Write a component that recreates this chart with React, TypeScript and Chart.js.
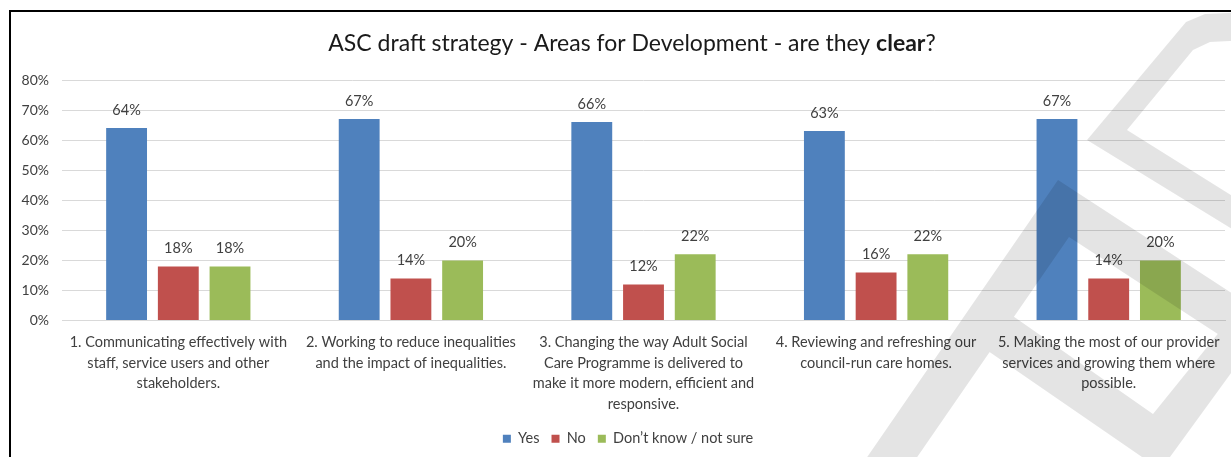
import React, { useEffect, useRef } from "react";
import { Chart, registerables } from "chart.js";

Chart.register(...registerables);

// ---------- data ----------
const categoryLabels: string[][] = [
  ["1. Communicating effectively with", "staff, service users and other", "stakeholders."],
  ["2. Working to reduce inequalities", "and the impact of inequalities."],
  ["3. Changing the way Adult Social", "Care Programme is delivered to", "make it more modern, efficient and", "responsive."],
  ["4. Reviewing and refreshing our", "council-run care homes."],
  ["5. Making the most of our provider", "services and growing them where", "possible."],
];
const seriesNames = ["Yes", "No", "Don’t know / not sure"];
const yesValues = [64, 67, 66, 63, 67];
const noValues = [18, 14, 12, 16, 14];
const dontKnowValues = [18, 20, 22, 22, 20];
const yMin = 0;
const yMax = 80;
const yStep = 10;
const titleParts = [
  { text: "ASC draft strategy - Areas for Development - are they ", bold: false },
  { text: "clear", bold: true },
  { text: "?", bold: false },
];

// ---------- styles ----------
const seriesColors = ["#4F81BD", "#C0504D", "#9BBB59"];
const FONT = "Lato, 'Open Sans', sans-serif";
const TEXT = "#404040";
const GRID = "#D9D9D9";

// decorative watermark (background logo, not data)
const watermarkShapes: number[][][] = [
  [[1250, 12], [1205, 14], [1186, 22], [1087, 140], [1250, 240], [1250, 207], [1127, 130], [1193, 50], [1210, 42], [1250, 40]],
  [[850, 482], [1058, 180], [1250, 305], [1250, 355], [1069, 237], [900, 482]],
  [[990, 300], [1153, 414], [1250, 294], [1250, 347], [1170, 457], [1142, 457], [975, 342]],
];

const titlePlugin = {
  id: "mixedTitle",
  afterDraw(chart: any) {
    const ctx = chart.ctx;
    ctx.save();
    const size = 23;
    const fonts = titleParts.map((p) => `${p.bold ? "bold " : ""}${size}px ${FONT}`);
    let total = 0;
    const widths = titleParts.map((p, i) => {
      ctx.font = fonts[i];
      const w = ctx.measureText(p.text).width;
      total += w;
      return w;
    });
    let x = chart.width / 2 - total / 2;
    ctx.fillStyle = "#1a1a1a";
    ctx.textBaseline = "alphabetic";
    ctx.textAlign = "left";
    titleParts.forEach((p, i) => {
      ctx.font = fonts[i];
      ctx.fillText(p.text, x, 51);
      x += widths[i];
    });
    ctx.restore();
  },
};

const dataLabelPlugin = {
  id: "barValueLabels",
  afterDatasetsDraw(chart: any) {
    const ctx = chart.ctx;
    ctx.save();
    ctx.font = `14.5px ${FONT}`;
    ctx.fillStyle = TEXT;
    ctx.textAlign = "center";
    ctx.textBaseline = "alphabetic";
    chart.data.datasets.forEach((ds: any, di: number) => {
      const meta = chart.getDatasetMeta(di);
      meta.data.forEach((el: any, i: number) => {
        ctx.fillText(`${Math.round(ds.data[i])}%`, el.x, el.y - 13);
      });
    });
    ctx.restore();
  },
};

// centre the legend under the full (wider, cropped) chart like the reference
const legendShiftPlugin = {
  id: "legendShift",
  afterLayout(chart: any) {
    const l = chart.legend;
    if (l) {
      l.left += 5;
      l.right += 5;
    }
  },
};

const watermarkPlugin = {
  id: "watermark",
  afterDraw(chart: any) {
    const ctx = chart.ctx;
    ctx.save();
    ctx.beginPath();
    watermarkShapes.forEach((poly) => {
      poly.forEach(([x, y], i) => (i === 0 ? ctx.moveTo(x, y) : ctx.lineTo(x, y)));
      ctx.closePath();
    });
    ctx.fillStyle = "rgba(0,0,0,0.105)";
    ctx.fill("nonzero");
    ctx.restore();
  },
};

export default function App() {
  const canvasRef = useRef<HTMLCanvasElement | null>(null);

  useEffect(() => {
    if (!canvasRef.current) return;
    const chart = new Chart(canvasRef.current, {
      type: "bar",
      data: {
        labels: categoryLabels,
        datasets: [yesValues, noValues, dontKnowValues].map((vals, i) => ({
          label: seriesNames[i],
          data: vals,
          backgroundColor: seriesColors[i],
          borderWidth: 0,
          categoryPercentage: 0.667,
          barPercentage: 0.79,
        })),
      },
      options: {
        responsive: false,
        animation: false,
        layout: { padding: { top: 80, left: 21, right: 39, bottom: 1 } },
        scales: {
          x: {
            grid: { display: false, drawTicks: false },
            border: { display: true, color: GRID, width: 1 },
            ticks: {
              color: TEXT,
              font: { family: FONT, size: 14.5, lineHeight: 1.414 },
              padding: 12,
              maxRotation: 0,
              autoSkip: false,
            },
            afterFit: (s: any) => {
              s.height = 99;
            },
          },
          y: {
            min: yMin,
            max: yMax,
            grid: { color: GRID, lineWidth: 1, drawTicks: false },
            border: { display: false },
            ticks: {
              stepSize: yStep,
              color: TEXT,
              font: { family: FONT, size: 14 },
              padding: 13,
              callback: (v: any) => `${v}%`,
            },
            afterFit: (s: any) => {
              s.width = 41;
            },
          },
        },
        plugins: {
          title: { display: false },
          tooltip: { enabled: false },
          legend: {
            position: "bottom",
            labels: {
              color: TEXT,
              font: { family: FONT, size: 14.5 },
              boxWidth: 8,
              boxHeight: 8,
              padding: 12,
            },
          },
        },
      },
      plugins: [legendShiftPlugin, dataLabelPlugin, titlePlugin, watermarkPlugin],
    });
    return () => chart.destroy();
  }, []);

  return (
    <div
      style={{
        position: "absolute",
        left: 0,
        top: 0,
        width: 1231,
        height: 457,
        overflow: "hidden",
        background: "#fff",
      }}
    >
      <canvas
        ref={canvasRef}
        width={1264}
        height={457}
        style={{ position: "absolute", left: 0, top: 0, width: 1264, height: 457 }}
      />
      <div
        style={{
          position: "absolute",
          left: 9,
          top: 10,
          width: 1300,
          height: 500,
          borderTop: "2px solid #000",
          borderLeft: "2px solid #000",
          pointerEvents: "none",
        }}
      />
    </div>
  );
}
